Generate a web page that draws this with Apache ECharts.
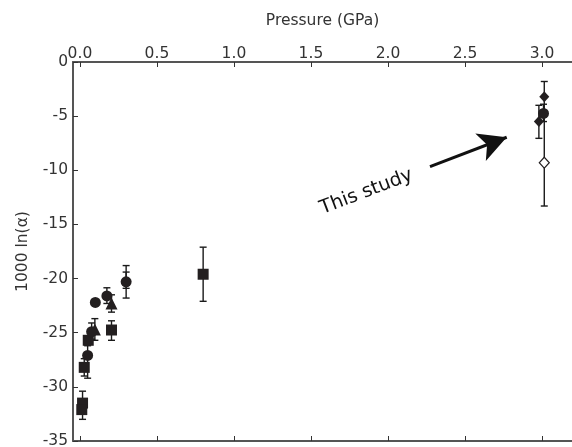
<!DOCTYPE html>
<html>
<head>
<meta charset="utf-8">
<script src="https://cdn.jsdelivr.net/npm/echarts@6/dist/echarts.min.js"></script>
<style>html,body{margin:0;padding:0;background:#fff}#c{width:572px;height:447px}</style>
</head>
<body>
<div id="c"></div>
<script>
// ---- data ----
const xTicks = [0, 0.5, 1.0, 1.5, 2.0, 2.5, 3.0];
const circles = [[0.10,-22.2],[0.175,-21.6],[0.30,-20.3],[0.076,-24.9],[0.05,-27.1],[3.01,-4.75]];
const squares = [[0.80,-19.6],[0.205,-24.75],[0.054,-25.7],[0.028,-28.2],[0.017,-31.5],[0.012,-32.1]];
const triangles = [[0.205,-22.3],[0.097,-24.7]];
const diamondsFilled = [[3.015,-3.2],[2.98,-5.5]];
const diamondsOpen = [[3.015,-9.3]];
// [x, low, high]
const errorBars = [
  [0.80,-22.1,-17.1],[0.30,-21.8,-18.8],[0.30,-20.9,-19.4],[0.175,-22.3,-20.85],
  [0.205,-23.1,-21.5],[0.205,-25.7,-23.9],[0.097,-25.7,-23.7],[0.076,-25.6,-24.1],
  [0.05,-29.2,-26.2],[0.028,-29.0,-27.4],[0.017,-33.0,-30.4],
  [3.015,-13.3,-1.8],[2.98,-7.05,-4.0],[3.01,-5.5,-3.9]
];
const arrowStart = [2.273,-9.67];
const arrowEnd = [2.771,-6.95];
const noteAt = [1.86,-12.0];
const noteText = 'This study';

const FONT = 'DejaVu Sans';
const AX = '#555';
const INK = '#231f20';
const FS = 15.5;
const chart = echarts.init(document.getElementById('c'));
const xCommon = {
  type:'value', min:-0.045, max:3.195, splitLine:{show:false},
  axisLine:{onZero:false, lineStyle:{color:AX, width:2}},
  axisTick:{inside:true, length:5, customValues:xTicks, lineStyle:{color:'#333', width:1}}
};
const mark = {color:INK, opacity:1};
chart.setOption({
  backgroundColor:'#fff',
  animation:false,
  grid:{left:73, right:0, top:62, bottom:6, outerBoundsMode:'none'},
  xAxis:[
    Object.assign({}, xCommon, {
      position:'top', name:'Pressure (GPa)', nameLocation:'middle', nameGap:33,
      nameTextStyle:{fontSize:FS, color:'#333', fontFamily:FONT},
      axisLabel:{customValues:xTicks, formatter:v=>v.toFixed(1), fontSize:FS, margin:0, color:'#333', fontFamily:FONT}
    }),
    Object.assign({}, xCommon, {position:'bottom', axisLabel:{show:false}})
  ],
  yAxis:{
    type:'value', min:-35, max:0, interval:5, splitLine:{show:false},
    name:'1000 ln(\u03b1)', nameLocation:'middle', nameGap:42,
    nameTextStyle:{fontSize:FS, color:'#333', fontFamily:FONT},
    axisLine:{onZero:false, lineStyle:{color:AX, width:2}},
    axisTick:{inside:true, length:5, lineStyle:{color:'#333'}},
    axisLabel:{fontSize:FS, margin:5, color:'#333', fontFamily:FONT}
  },
  series:[
    {type:'custom', xAxisIndex:0, z:1, data:errorBars, encode:{x:0, y:[1,2]},
     renderItem:function(params, api){
       const x = api.value(0);
       const p1 = api.coord([x, api.value(2)]);
       const p2 = api.coord([x, api.value(1)]);
       const hw = 3.5, st = {stroke:'#1a1a1a', lineWidth:1.4};
       return {type:'group', children:[
         {type:'line', shape:{x1:p1[0],y1:p1[1],x2:p2[0],y2:p2[1]}, style:st},
         {type:'line', shape:{x1:p1[0]-hw,y1:p1[1],x2:p1[0]+hw,y2:p1[1]}, style:st},
         {type:'line', shape:{x1:p2[0]-hw,y1:p2[1],x2:p2[0]+hw,y2:p2[1]}, style:st}
       ]};
     }},
    {type:'scatter', z:3, symbol:'rect', symbolSize:11, data:squares, itemStyle:mark},
    {type:'scatter', z:3, symbol:'triangle', symbolSize:12, data:triangles, itemStyle:mark},
    {type:'scatter', z:4, symbol:'circle', symbolSize:11, data:circles, itemStyle:mark},
    {type:'scatter', z:3, symbol:'diamond', symbolSize:[10,11], data:diamondsFilled, itemStyle:mark},
    {type:'scatter', z:3, symbol:'diamond', symbolSize:[10,11], data:diamondsOpen,
     itemStyle:{color:'#fff', opacity:1, borderColor:INK, borderWidth:1.2},
     markLine:{silent:true, symbol:['none','arrow'], symbolSize:[22,28],
       lineStyle:{color:'#111', width:3, type:'solid'}, label:{show:false},
       data:[[{coord:arrowStart},{coord:arrowEnd}]]},
     markPoint:{silent:true, symbol:'circle', symbolSize:0,
       label:{show:true, position:'inside', formatter:noteText, rotate:21, fontSize:19, color:'#111', fontFamily:FONT},
       data:[{coord:noteAt}]}}
  ]
});
</script>
</body>
</html>
